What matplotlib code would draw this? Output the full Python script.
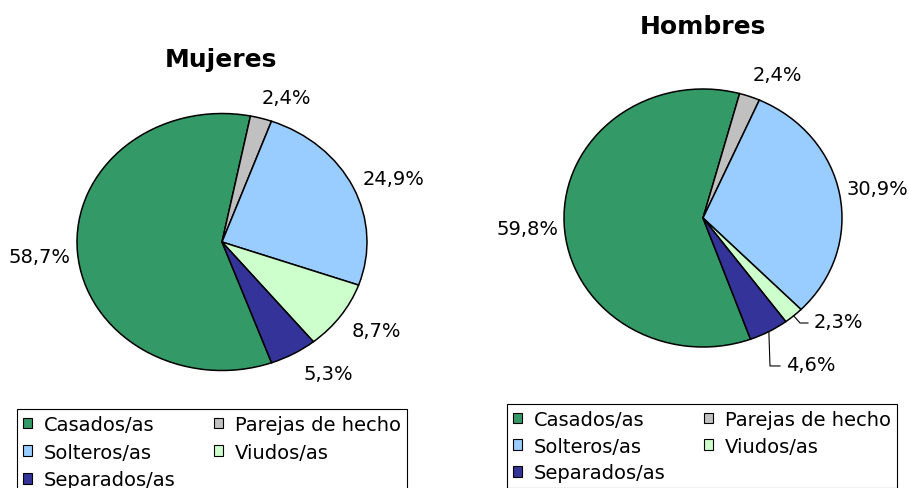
import matplotlib
matplotlib.use("Agg")
import matplotlib.pyplot as plt
from matplotlib.patches import Patch
import numpy as np

plt.rcParams['font.family'] = ['DejaVu Sans']

# ---- data ----
categories = ["Casados/as", "Parejas de hecho", "Solteros/as", "Viudos/as", "Separados/as"]
mujeres = [58.7, 2.4, 24.9, 8.7, 5.3]
hombres = [59.8, 2.4, 30.9, 2.3, 4.6]
titles = ["Mujeres", "Hombres"]
colors = ["#339966", "#C0C0C0", "#99CCFF", "#CCFFCC", "#333399"]

W, H = 909, 489
fig = plt.figure(figsize=(W / 100, H / 100), dpi=100)


def px_axes(left, top, right, bottom):
    return fig.add_axes([left / W, 1 - bottom / H, (right - left) / W, (bottom - top) / H])


def fmt(v):
    return f"{v:.1f}%".replace(".", ",")


# label positions (in pie-radius units)
lab_m = [(-1.262, -0.109), (0.441, 1.128), (1.186, 0.498), (1.062, -0.685), (0.731, -1.027)]
lab_h = [(-1.266, -0.078), (0.532, 1.116), (1.252, 0.225), (0.971, -0.806), (0.777, -1.132)]

boxes = [(77, 114.5, 367, 371.5), (564, 90, 842, 348)]
title_pos = [(221, 60), (703, 27)]
legend_box = [(17, 410), (507, 405)]
legend_spacing = [0.45, 0.40]

for i, (vals, labpos) in enumerate([(mujeres, lab_m), (hombres, lab_h)]):
    ax = px_axes(*boxes[i])
    wedges, _ = ax.pie(vals, colors=colors, startangle=-70, counterclock=False, radius=1,
                       wedgeprops=dict(edgecolor="black", linewidth=1.1))
    for w in wedges:
        w.set_clip_on(False)
    ax.set_aspect("auto")
    ax.set_xlim(-1, 1)
    ax.set_ylim(-1, 1)
    ax.axis("off")
    for v, (x, y) in zip(vals, labpos):
        ax.text(x, y, fmt(v), ha="center", va="center", fontsize=14, color="black")
    if i == 1:
        # leader lines for the small lower slices
        for k, bend, end in [(3, (0.698, -0.814), (0.755, -0.814)),
                             (4, (0.482, -1.147), (0.554, -1.147))]:
            w = wedges[k]
            mid = np.deg2rad((w.theta1 + w.theta2) / 2)
            sx, sy = np.cos(mid), np.sin(mid)
            ax.plot([sx, bend[0], end[0]], [sy, bend[1], end[1]], color="black", lw=0.8,
                    clip_on=False)
    tx, ty = title_pos[i]
    fig.text(tx / W, 1 - ty / H, titles[i], ha="center", va="center", fontsize=18,
             fontweight="bold")

    order = [0, 2, 4, 1, 3]
    handles = [Patch(facecolor=colors[k], edgecolor="black", linewidth=0.8) for k in order]
    labels = [categories[k] for k in order]
    lx, ly = legend_box[i]
    leg = fig.legend(handles, labels, ncol=2, loc="upper left",
                     bbox_to_anchor=(lx / W, 1 - ly / H, 390 / W, 0.0001),
                     bbox_transform=fig.transFigure, mode="expand",
                     frameon=True, fancybox=False, edgecolor="black", framealpha=1,
                     borderaxespad=0, borderpad=0.3, handlelength=0.45, handleheight=0.45,
                     handletextpad=0.65, labelspacing=legend_spacing[i], columnspacing=1.0,
                     fontsize=14)
    leg.get_frame().set_linewidth(0.8)

fig.savefig("out.png", dpi=100)
